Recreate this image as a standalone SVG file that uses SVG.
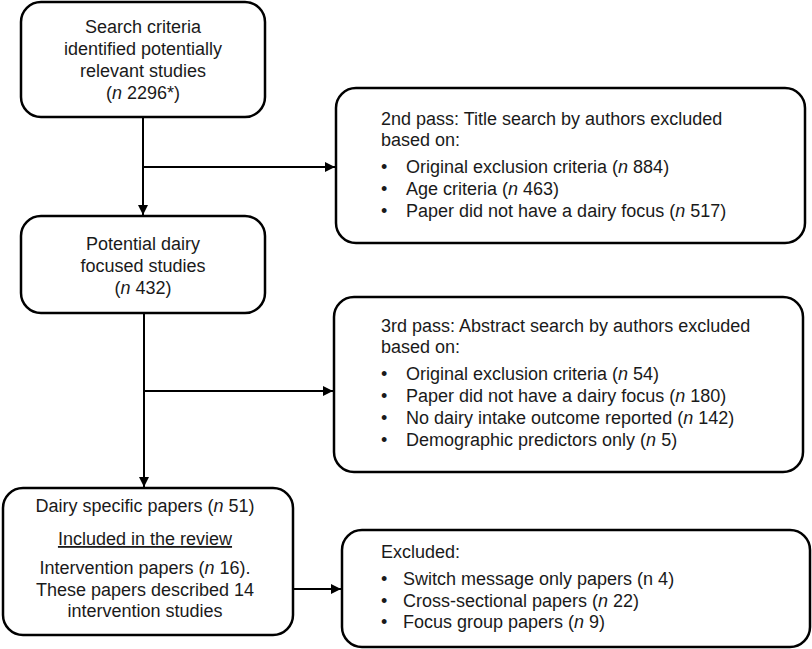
<svg xmlns="http://www.w3.org/2000/svg" width="812" height="649" viewBox="0 0 812 649">
<style>
.box{fill:#fff;stroke:#000;stroke-width:2.5}
.t{font-family:"Liberation Sans",Arial,sans-serif;font-size:18px;fill:#1a1a1a}
.c{text-anchor:middle}
.ln{stroke:#000;stroke-width:2;fill:none}
</style>
<defs>
<marker id="ah" markerWidth="10" markerHeight="10" refX="10" refY="5" orient="auto" markerUnits="userSpaceOnUse">
<path d="M0,0 L10,5 L0,10 Z" fill="#000"/>
</marker>
</defs>
<rect width="812" height="649" fill="#fff"/>
<g id="connectors">
<line class="ln" x1="143" y1="118" x2="143" y2="215" marker-end="url(#ah)"/>
<line class="ln" x1="143" y1="167" x2="335" y2="167" marker-end="url(#ah)"/>
<line class="ln" x1="144" y1="313" x2="144" y2="487" marker-end="url(#ah)"/>
<line class="ln" x1="144" y1="391" x2="333" y2="391" marker-end="url(#ah)"/>
<line class="ln" x1="293" y1="589" x2="341" y2="589" marker-end="url(#ah)"/>
</g>
<g id="n1">
<rect class="box" x="21" y="2" width="244" height="115" rx="20"/>
<text class="t c" x="143" y="33">Search criteria</text>
<text class="t c" x="143" y="55">identified potentially</text>
<text class="t c" x="143" y="77">relevant studies</text>
<text class="t c" x="143" y="99">(<tspan font-style="italic">n</tspan> 2296*)</text>
</g>
<g id="n2">
<rect class="box" x="336" y="88" width="469" height="155" rx="20"/>
<text class="t" x="381" y="125">2nd pass: Title search by authors excluded</text>
<text class="t" x="381" y="146">based on:</text>
<text class="t" x="381" y="173">•</text><text class="t" x="406" y="173">Original exclusion criteria (<tspan font-style="italic">n</tspan> 884)</text>
<text class="t" x="381" y="195">•</text><text class="t" x="406" y="195">Age criteria (<tspan font-style="italic">n</tspan> 463)</text>
<text class="t" x="381" y="217">•</text><text class="t" x="406" y="217">Paper did not have a dairy focus (<tspan font-style="italic">n</tspan> 517)</text>
</g>
<g id="n3">
<rect class="box" x="21" y="216" width="244" height="97" rx="20"/>
<text class="t c" x="143" y="250">Potential dairy</text>
<text class="t c" x="143" y="272">focused studies</text>
<text class="t c" x="143" y="294">(<tspan font-style="italic">n</tspan> 432)</text>
</g>
<g id="n4">
<rect class="box" x="334" y="297" width="469" height="175" rx="20"/>
<text class="t" x="381" y="332">3rd pass: Abstract search by authors excluded</text>
<text class="t" x="381" y="353">based on:</text>
<text class="t" x="381" y="380">•</text><text class="t" x="406" y="380">Original exclusion criteria (<tspan font-style="italic">n</tspan> 54)</text>
<text class="t" x="381" y="402">•</text><text class="t" x="406" y="402">Paper did not have a dairy focus (<tspan font-style="italic">n</tspan> 180)</text>
<text class="t" x="381" y="424">•</text><text class="t" x="406" y="424">No dairy intake outcome reported (<tspan font-style="italic">n</tspan> 142)</text>
<text class="t" x="381" y="446">•</text><text class="t" x="406" y="446">Demographic predictors only (<tspan font-style="italic">n</tspan> 5)</text>
</g>
<g id="n5">
<rect class="box" x="3" y="488" width="290" height="147" rx="20"/>
<text class="t c" x="145" y="512">Dairy specific papers (<tspan font-style="italic">n</tspan> 51)</text>
<text class="t c" x="145" y="545" text-decoration="underline">Included in the review</text>
<text class="t c" x="145" y="574">Intervention papers (<tspan font-style="italic">n</tspan> 16).</text>
<text class="t c" x="145" y="596">These papers described 14</text>
<text class="t c" x="145" y="617">intervention studies</text>
</g>
<g id="n6">
<rect class="box" x="342" y="530" width="468" height="117" rx="20"/>
<text class="t" x="381" y="558">Excluded:</text>
<text class="t" x="381" y="585">•</text><text class="t" x="403" y="585">Switch message only papers (n 4)</text>
<text class="t" x="381" y="607">•</text><text class="t" x="403" y="607">Cross-sectional papers (<tspan font-style="italic">n</tspan> 22)</text>
<text class="t" x="381" y="628">•</text><text class="t" x="403" y="628">Focus group papers (<tspan font-style="italic">n</tspan> 9)</text>
</g>
</svg>
